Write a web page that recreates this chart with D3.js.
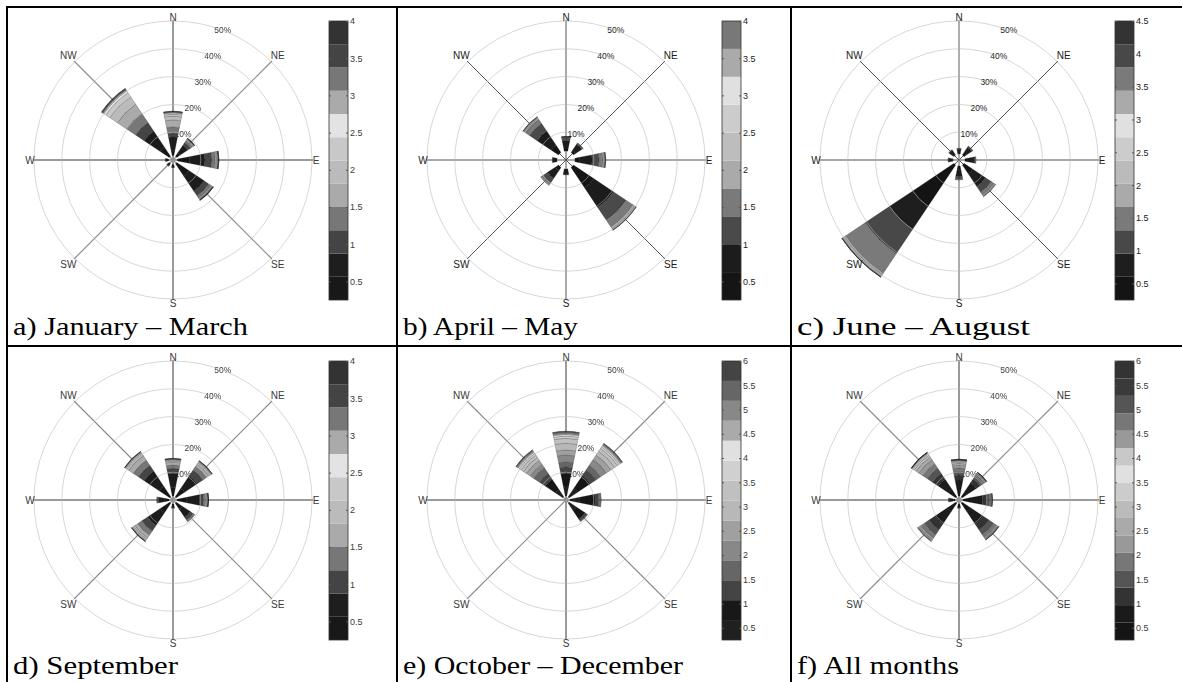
<!DOCTYPE html>
<html><head><meta charset="utf-8">
<script src="https://cdn.jsdelivr.net/npm/d3@7"></script>
<style>body{margin:0;background:#fff}svg{display:block}</style>
</head><body>
<script>
// ---------------- DATA ----------------
const directions = ["N","NE","E","SE","S","SW","W","NW"];
const ringValues = [10, 20, 30, 40, 50];
const captions = ["a) January – March","b) April – May","c) June – August","d) September","e) October – December","f) All months"];
const speedMin = 0.25;
const speedMax = [4, 4, 4.5, 4, 6, 6];
const ticksTo4 = [0.5, 1, 1.5, 2, 2.5, 3, 3.5, 4];
const ticksTo45 = [0.5, 1, 1.5, 2, 2.5, 3, 3.5, 4, 4.5];
const ticksTo6 = [0.5, 1, 1.5, 2, 2.5, 3, 3.5, 4, 4.5, 5, 5.5, 6];

// frequency (%) per speed bin, for each direction N, NE, E, SE, S, SW, W, NW
const freqJanMar = [
  [3.5, 4.8, 1.4, 2.2, 2.5, 1.4, 0.7, 0.4, 0.3, 0.2, 0.1, 0.1],
  [3.0, 3.4, 1.2, 0.8, 0.4, 0.2, 0.15, 0.1, 0.05, 0.03, 0.03, 0.03],
  [6.0, 5.5, 2.5, 1.2, 0.5, 0.3, 0.2, 0.1, 0.1, 0.05, 0.05, 0.05],
  [7.0, 6.5, 2.0, 1.0, 0.4, 0.2, 0.1, 0.1, 0.05, 0.05, 0.05, 0.05],
  [1.6, 1.0, 0.2],
  [1.5, 1.1, 0.2],
  [1.6, 1.0, 0.2],
  [5.5, 7.0, 3.7, 3.9, 4.0, 3.2, 1.8, 0.8, 0.4, 0.3, 0.2, 0.2]
];
const freqAprMay = [
  [4.0, 3.0, 0.9, 0.3, 0.1, 0.05, 0.02, 0.02, 0.02, 0.02],
  [4.0, 2.8, 0.5, 0.2],
  [5.0, 4.4, 2.5, 1.4, 0.5, 0.25, 0.15, 0.05, 0.03, 0.02],
  [12.0, 8.5, 5.5, 3.0, 0.8, 0.3, 0.15, 0.08, 0.05, 0.02],
  [3.0, 2.0, 0.4],
  [4.5, 3.5, 1.8, 0.8, 0.3, 0.1],
  [3.0, 1.8, 0.2],
  [6.5, 6.0, 3.3, 1.8, 0.5, 0.3, 0.1, 0.1, 0.05, 0.05]
];
const freqJunAug = [
  [2.5, 1.4, 0.3],
  [3.2, 2.3, 0.4, 0.2],
  [3.2, 2.2, 0.5, 0.3],
  [6.0, 5.5, 2.5, 1.2, 0.4, 0.15, 0.1, 0.05],
  [3.5, 2.5, 0.8, 0.3, 0.1],
  [20.0, 10.0, 10.5, 8.5, 0.7, 0.4, 0.25, 0.15, 0.1, 0.05, 0.03, 0.02],
  [2.4, 1.4, 0.2],
  [2.6, 1.6, 0.3]
];
const freqSep = [
  [4.5, 5.0, 1.9, 1.2, 1.0, 0.5, 0.3, 0.2, 0.15, 0.1, 0.1, 0.05],
  [5.0, 5.5, 2.5, 1.5, 1.0, 0.6, 0.35, 0.2, 0.15, 0.1, 0.05, 0.05],
  [5.0, 4.5, 1.5, 0.8, 0.4, 0.25, 0.15, 0.1, 0.05, 0.03, 0.01, 0.01],
  [4.0, 3.5, 1.2, 0.5, 0.2, 0.1],
  [1.8, 1.0, 0.2],
  [5.5, 5.5, 2.5, 1.8, 1.2, 0.6, 0.4, 0.2, 0.15, 0.1, 0.03, 0.02],
  [3.0, 2.2, 0.5, 0.2],
  [6.0, 6.5, 2.5, 2.2, 2.0, 0.8, 0.4, 0.25, 0.15, 0.1, 0.05, 0.05]
];
const freqOctDec = [
  [5.0, 4.6, 2.3, 1.8, 2.5, 1.8, 2.4, 1.8, 0.8, 0.6, 0.4, 0.3, 0.3, 0.2],
  [5.0, 5.5, 2.5, 2.0, 2.5, 2.0, 1.6, 1.2, 0.7, 0.5, 0.4, 0.3, 0.2, 0.1],
  [5.0, 5.5, 1.2, 0.5, 0.3, 0.1, 0.1],
  [4.5, 3.8, 0.7, 0.3, 0.1],
  [0.6, 0.4],
  [0.6, 0.4],
  [0.6, 0.4],
  [4.5, 4.5, 2.5, 2.5, 1.5, 1.7, 1.3, 1.0, 0.7, 0.5, 0.4, 0.3, 0.2, 0.1]
];
const freqAll = [
  [3.5, 3.7, 1.8, 1.2, 1.3, 1.0, 0.7, 0.5, 0.3, 0.2, 0.15, 0.1, 0.1, 0.05, 0.05, 0.05],
  [3.5, 4.0, 1.6, 1.1, 0.7, 0.4, 0.25, 0.15, 0.1, 0.08, 0.05, 0.03, 0.02, 0.01],
  [4.0, 4.5, 1.8, 0.8, 0.4, 0.25, 0.15, 0.1, 0.05, 0.03, 0.02],
  [5.0, 5.5, 2.5, 2.0, 1.2, 0.5, 0.25, 0.15, 0.1, 0.05, 0.03, 0.02],
  [1.6, 1.1, 0.3],
  [5.0, 5.5, 2.5, 2.0, 1.5, 0.7, 0.35, 0.2, 0.12, 0.08, 0.05],
  [2.0, 1.4, 0.3, 0.1],
  [4.5, 4.5, 2.5, 2.2, 2.0, 1.7, 1.2, 0.8, 0.5, 0.3, 0.2, 0.1, 0.08, 0.05, 0.04, 0.03]
];

// ---------------- STYLE ----------------
const grayJanMar = ["#181818","#1e1e1e","#444444","#777777","#aaaaaa","#bbbbbb","#c8c8c8","#e3e3e3","#aaaaaa","#777777","#444444","#333333"];
const grayAprMay = ["#151515","#1c1c1c","#4a4a4a","#7a7a7a","#aaaaaa","#bdbdbd","#cccccc","#e0e0e0","#aaaaaa","#787878"];
const grayJunAug = ["#141414","#1e1e1e","#484848","#7a7a7a","#aaaaaa","#bbbbbb","#cccccc","#e0e0e0","#aaaaaa","#7a7a7a","#484848","#333333"];
const grayOctDec = ["#202020","#181818","#444444","#666666","#888888","#a0a0a0","#b8b8b8","#c0c0c0","#d0d0d0","#e0e0e0","#aaaaaa","#888888","#666666","#444444"];
const grayAll = ["#151515","#1a1a1a","#333333","#555555","#777777","#999999","#aaaaaa","#bbbbbb","#cccccc","#e0e0e0","#c8c8c8","#999999","#777777","#555555","#3a3a3a","#333333"];

const panels = [
  {freq: freqJanMar, gray: grayJanMar, ticks: ticksTo4, hole: 4.5, style: "scan"},
  {freq: freqAprMay, gray: grayAprMay, ticks: ticksTo4, hole: 9, style: "crispB"},
  {freq: freqJunAug, gray: grayJunAug, ticks: ticksTo45, hole: 6, style: "crispC"},
  {freq: freqSep, gray: grayJanMar, ticks: ticksTo4, hole: 4, style: "scan"},
  {freq: freqOctDec, gray: grayOctDec, ticks: ticksTo6, hole: 4, style: "scan"},
  {freq: freqAll, gray: grayAll, ticks: ticksTo6, hole: 4, style: "scan"}
];
const axisStyle = {
  scan:   {main: "#9a9a9a", mainW: 2, diag: "#8a8a8a", diagW: 1.1, text: "#3a3a3a", blur: true},
  crispB: {main: "#555555", mainW: 1, diag: "#444444", diagW: 0.9, text: "#1a1a1a", blur: false},
  crispC: {main: "#8a8a8a", mainW: 1.4, diag: "#3a3a3a", diagW: 0.9, text: "#1a1a1a", blur: false}
};

const W = 1182, H = 682;
const colX = [7, 397, 791], rowY = [7, 346];
const centerX = [173, 566, 959], centerY = [160, 500];
const rMax = 139;
const rScale = d3.scaleLinear().domain([0, 50]).range([0, rMax]);
const half = Math.PI / 16;
const font = "'Liberation Sans', Arial, sans-serif";

const svg = d3.select("body").append("svg").attr("width", W).attr("height", H);
svg.append("rect").attr("width", W).attr("height", H).attr("fill", "#fff");
svg.append("defs").append("filter").attr("id", "soft").attr("x", "-5%").attr("y", "-5%").attr("width", "110%").attr("height", "110%")
  .append("feGaussianBlur").attr("stdDeviation", 0.45);

const captionLen = [235, 175, 233, 165, 280, 162];
const captionBase = [335, 674];

panels.forEach((p, i) => {
  const col = i % 3, row = Math.floor(i / 3);
  const cx = centerX[col], cy = centerY[row];
  const st = axisStyle[p.style];
  const g0 = svg.append("g").attr("transform", `translate(${cx},${cy})`);
  const g = g0.append("g");
  if (st.blur) g.attr("filter", "url(#soft)");

  // axes
  directions.forEach((d, k) => {
    const a = k * Math.PI / 4, main = k % 2 === 0;
    g.append("line").attr("x1", 0).attr("y1", 0)
      .attr("x2", Math.sin(a) * (rMax + 1)).attr("y2", -Math.cos(a) * (rMax + 1))
      .attr("stroke", main ? st.main : st.diag).attr("stroke-width", main ? st.mainW : st.diagW);
  });

  // ring labels (drawn under the wedges, as in the original)
  const la = 21 * Math.PI / 180;
  ringValues.forEach(v => {
    g.append("text").attr("x", Math.sin(la) * rScale(v)).attr("y", -Math.cos(la) * rScale(v))
      .attr("text-anchor", "middle").attr("dominant-baseline", "central")
      .attr("font-family", font).attr("font-size", 8.5).attr("fill", st.text).text(v + "%");
  });

  // wedges
  const arc = d3.arc();
  p.freq.forEach((bins, k) => {
    const a = k * Math.PI / 4;
    let cum = 0;
    bins.forEach((f, b) => {
      const r0 = Math.max(p.hole, rScale(cum));
      cum += f;
      const r1 = Math.max(p.hole, rScale(cum));
      if (r1 <= r0) return;
      g.append("path")
        .attr("d", arc({innerRadius: r0, outerRadius: r1, startAngle: a - half, endAngle: a + half}))
        .attr("fill", p.gray[b]).attr("stroke", "#111").attr("stroke-opacity", 0.4).attr("stroke-width", 0.5);
    });
  });

  // grid circles on top
  ringValues.forEach(v => {
    g.append("circle").attr("r", rScale(v)).attr("fill", "none")
      .attr("stroke", "#b7b7b7").attr("stroke-opacity", 0.55).attr("stroke-width", 1);
  });

  // direction labels
  directions.forEach((d, k) => {
    const a = k * Math.PI / 4, rr = k % 2 === 0 ? 143 : 148;
    g0.append("text").attr("x", Math.sin(a) * rr).attr("y", -Math.cos(a) * rr)
      .attr("text-anchor", "middle").attr("dominant-baseline", "central")
      .attr("font-family", font).attr("font-size", 10).attr("fill", st.text).text(d);
  });

  // colorbar
  const cbX = cx + 156, cbW = 19, cbTop = cy - 139, cbBot = cy + 140;
  const max = speedMax[i];
  const s = d3.scaleLinear().domain([speedMin, max]).range([cbBot, cbTop]);
  const step = (max - speedMin) / p.gray.length;
  p.gray.forEach((c, b) => {
    const y0 = s(speedMin + (b + 1) * step), y1 = s(speedMin + b * step);
    svg.append("rect").attr("x", cbX).attr("y", y0).attr("width", cbW).attr("height", y1 - y0).attr("fill", c);
  });
  svg.append("rect").attr("x", cbX).attr("y", cbTop).attr("width", cbW).attr("height", cbBot - cbTop)
    .attr("fill", "none").attr("stroke", "#333").attr("stroke-width", 0.8);
  const axR = svg.append("g").attr("transform", `translate(${cbX + cbW},0)`)
    .call(d3.axisRight(s).tickValues(p.ticks).tickSizeInner(-2).tickSizeOuter(0).tickPadding(2).tickFormat(d => String(d)));
  axR.select(".domain").remove();
  axR.selectAll("text").attr("font-family", font).attr("font-size", 9).attr("fill", st.text);
  axR.selectAll("line").attr("stroke", "#555");
  const axL = svg.append("g").attr("transform", `translate(${cbX},0)`)
    .call(d3.axisLeft(s).tickValues(p.ticks).tickSizeInner(-2).tickSizeOuter(0).tickFormat(""));
  axL.select(".domain").remove();
  axL.selectAll("line").attr("stroke", "#555");

  // caption
  svg.append("text").attr("x", colX[col] + 6).attr("y", captionBase[row])
    .attr("font-family", "'Liberation Serif', 'Times New Roman', serif").attr("font-size", 26)
    .attr("textLength", captionLen[i]).attr("lengthAdjust", "spacingAndGlyphs")
    .attr("fill", "#000").text(captions[i]);
});

// table borders
const border = [
  [6, 7, W, 7], [7, 6, 7, H], [397, 6, 397, H], [791, 6, 791, H], [6, 346, W, 346]
];
border.forEach(b => svg.append("line").attr("x1", b[0]).attr("y1", b[1]).attr("x2", b[2]).attr("y2", b[3])
  .attr("stroke", "#000").attr("stroke-width", 2));
</script>
</body></html>
